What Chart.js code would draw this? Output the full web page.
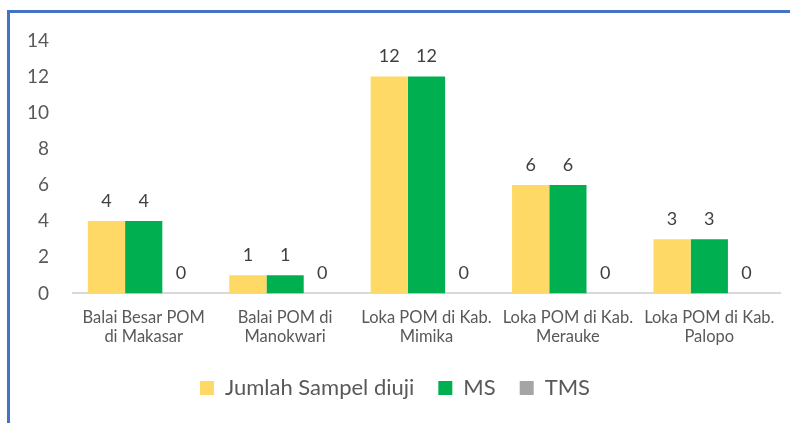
<!DOCTYPE html>
<html>
<head>
<meta charset="utf-8">
<script src="https://cdn.jsdelivr.net/npm/chart.js@4.4.1/dist/chart.umd.min.js"></script>
<style>
  html, body { margin: 0; padding: 0; background: #fff; }
  #frame {
    position: absolute; left: 7px; top: 10px;
    width: 780px; height: 410px;
    border-top: 3px solid #4472C4; border-left: 3px solid #4472C4;
  }
  #wrap { position: relative; width: 780px; height: 410px; }
</style>
</head>
<body>
<div id="frame"><div id="wrap"><canvas id="mycanvas1"></canvas></div></div>
<script>
const categories = [
    ['Balai Besar POM', 'di Makasar'],
    ['Balai POM di', 'Manokwari'],
    ['Loka POM di Kab.', 'Mimika'],
    ['Loka POM di Kab.', 'Merauke'],
    ['Loka POM di Kab.', 'Palopo']
];
const jumlahSampel = [4, 1, 12, 6, 3];
const msCounts = [4, 1, 12, 6, 3];
const tmsCounts = [0, 0, 0, 0, 0];
const yTicks = [0, 2, 4, 6, 8, 10, 12, 14];

const FONT = 'Lato, "Open Sans", sans-serif';

// draw the value above each bar
const valueLabels = {
    id: 'valueLabels',
    afterDatasetsDraw(chart) {
        const ctx = chart.ctx;
        ctx.save();
        ctx.font = '18px ' + FONT;
        ctx.fillStyle = '#404040';
        ctx.textAlign = 'center';
        ctx.textBaseline = 'bottom';
        chart.data.datasets.forEach((ds, i) => {
            chart.getDatasetMeta(i).data.forEach((bar, j) => {
                ctx.fillText(ds.data[j], bar.x, bar.y - 11);
            });
        });
        ctx.restore();
    }
};

const chartData = {
    labels: categories,
    datasets: [
        {
            label: 'Jumlah Sampel diuji',
            backgroundColor: '#FFD966',
            data: jumlahSampel
        },
        {
            label: 'MS',
            backgroundColor: '#00B050',
            data: msCounts
        },
        {
            label: 'TMS',
            backgroundColor: '#A5A5A5',
            data: tmsCounts
        }
    ]
};

new Chart(document.getElementById('mycanvas1'), {
    type: 'bar',
    data: chartData,
    plugins: [valueLabels],
    options: {
        responsive: true,
        maintainAspectRatio: false,
        animation: false,
        layout: { padding: { top: 13, right: 10, bottom: 14, left: 0 } },
        datasets: {
            bar: { categoryPercentage: 0.79, barPercentage: 1.0 }
        },
        plugins: {
            legend: {
                position: 'bottom',
                labels: {
                    boxWidth: 14,
                    boxHeight: 14,
                    padding: 24,
                    color: '#595959',
                    font: { family: FONT, size: 22 }
                }
            },
            tooltip: { enabled: false }
        },
        scales: {
            x: {
                grid: { display: false },
                border: { color: '#D9D9D9', width: 2 },
                ticks: {
                    color: '#595959',
                    font: { family: FONT, size: 16.5 },
                    maxRotation: 0,
                    padding: 6
                }
            },
            y: {
                min: 0,
                max: 14,
                afterBuildTicks: axis => { axis.ticks = yTicks.map(v => ({ value: v })); },
                afterFit: axis => { axis.width = 63; },
                grid: { display: false },
                border: { display: false },
                ticks: {
                    color: '#595959',
                    font: { family: FONT, size: 19 },
                    padding: 16
                }
            }
        }
    }
});
</script>
</body>
</html>
